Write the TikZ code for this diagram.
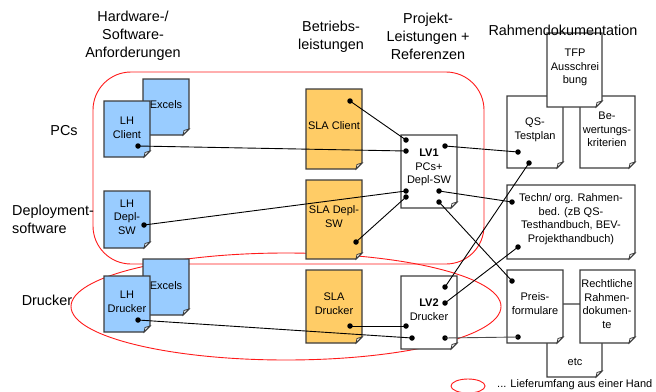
\documentclass[tikz,border=0pt]{standalone}
\usepackage{fontspec}
\setmainfont{Liberation Sans}
\definecolor{blueF}{HTML}{99CCFF}
\definecolor{orangeF}{HTML}{FFCC66}
\definecolor{edgeC}{HTML}{3C3C3C}
\definecolor{redC}{HTML}{FF1A1A}
\tikzset{
  docline/.style={draw=edgeC,line width=1.1pt,line join=miter},
  doctext/.style={align=center,inner sep=0pt,font=\fontsize{11}{13.6}\selectfont},
  headtext/.style={align=center,inner sep=0pt,font=\fontsize{14.4}{18}\selectfont},
  redline/.style={draw=redC,line width=0.9pt},
  conn/.style={draw=black,line width=0.9pt},
  dotn/.style={circle,fill=black,inner sep=0pt,minimum size=5.5pt}
}
% name, x1, y1, x2, y2, fill, text x, text y, text
\newcommand\mydoc[9]{%
  \path[docline,fill=#6] (#2,#3) -- (#4,#3) -- (#4,#5-6) -- (#4-6,#5) -- (#2,#5) -- cycle;
  \path[docline,line width=0.8pt,fill=white!80!#6] (#4,#5-6) -- (#4-6,#5) -- (#4-5,#5-4.5) -- cycle;
  \node[doctext] (#1) at (#7,#8) {#9};
}
\begin{document}
\begin{tikzpicture}[x=1pt,y=-1pt]
\useasboundingbox (0,0) rectangle (656,391);
% red groupings
\draw[redline,rounded corners=38pt] (93,72) rectangle (484,264);
\draw[redline] (286,306.5) ellipse [x radius=215, y radius=53.5];
% documents
\mydoc{exA}{143}{79}{189}{135}{blueF}{166}{105}{Excels}
\mydoc{lhc}{104}{101}{150}{157}{blueF}{127}{127.5}{LH\\Client}
\mydoc{lhd}{104}{191}{150}{248}{blueF}{127}{217}{LH\\Depl-\\SW}
\mydoc{exB}{143}{259}{189}{315}{blueF}{166}{286}{Excels}
\mydoc{lhp}{104}{276}{150}{332}{blueF}{127}{301.5}{LH\\Drucker}
\mydoc{slac}{306}{89}{362}{169}{orangeF}{334}{126}{SLA Client}
\mydoc{slad}{306}{180}{362}{259}{orangeF}{334}{216.5}{SLA Depl-\\SW}
\mydoc{slap}{306}{270}{362}{343}{orangeF}{334}{304}{SLA\\Drucker}
\mydoc{lvA}{401}{135}{457}{208}{white}{429}{167.5}{\textbf{LV1}\\PCs+\\Depl-SW}
\mydoc{lvB}{401}{276}{457}{349}{white}{429}{309.5}{\textbf{LV2}\\Drucker}
\mydoc{qs}{507}{96}{563}{168}{white}{535}{129.5}{QS-\\Testplan}
\mydoc{bew}{580}{96}{635}{168}{white}{607}{129.5}{Be-\\wertungs-\\kriterien}
\mydoc{tfp}{547}{33}{602}{107}{white}{575}{67.5}{TFP\\Ausschrei\\bung}
\mydoc{techn}{507}{185}{635}{259}{white}{571}{219}{Techn/ org. Rahmen-\\bed. (zB QS-\\Testhandbuch, BEV-\\Projekthandbuch)}
\mydoc{etcd}{547}{304}{602}{377}{white}{575}{362}{etc}
\mydoc{preis}{507}{270}{563}{343}{white}{535}{303.5}{Preis-\\formulare}
\mydoc{recht}{580}{270}{635}{343}{white}{607}{304}{Rechtliche\\Rahmen-\\dokumen-\\te}
% connection dots
\node[dotn] (dlhc) at (138,146) {};
\node[dotn] (dlhd) at (144,225) {};
\node[dotn] (dlhp) at (138,320) {};
\node[dotn] (dslac) at (350,101) {};
\node[dotn] (dslad) at (356,242) {};
\node[dotn] (dslap) at (350,326) {};
\node[dotn] (a1) at (406,140) {};
\node[dotn] (a2) at (406,151) {};
\node[dotn] (a3) at (406,191) {};
\node[dotn] (a4) at (406,197) {};
\node[dotn] (a5) at (445,146) {};
\node[dotn] (a6) at (439,191) {};
\node[dotn] (a7) at (439,202) {};
\node[dotn] (b1) at (445,287) {};
\node[dotn] (b2) at (445,303) {};
\node[dotn] (b3) at (406,326) {};
\node[dotn] (b4) at (412,338) {};
\node[dotn] (b5) at (445,338) {};
\node[dotn] (q1) at (518,152) {};
\node[dotn] (q2) at (529,163) {};
\node[dotn] (t1) at (512,202) {};
\node[dotn] (t2) at (518,247) {};
\node[dotn] (p1) at (512,281) {};
\node[dotn] (p2) at (518,337) {};
% connectors
\draw[conn] (dlhc.center) -- (a2.center);
\draw[conn] (dslac.center) -- (a1.center);
\draw[conn] (dlhd.center) -- (a3.center);
\draw[conn] (dslad.center) -- (a4.center);
\draw[conn] (a5.center) -- (q1.center);
\draw[conn] (a6.center) -- (t1.center);
\draw[conn] (a7.center) -- (p1.center);
\draw[conn] (q2.center) -- (b1.center);
\draw[conn] (t2.center) -- (b2.center);
\draw[conn] (dslap.center) -- (b3.center);
\draw[conn] (dlhp.center) -- (b4.center);
\draw[conn,draw=black!70] (b5.center) -- (p2.center);
% headers
\node[headtext] (h1) at (133,36) {Hardware-/\\Software-\\Anforderungen};
\node[headtext] (h2) at (331,37) {Betriebs-\\leistungen};
\node[headtext] (h3) at (428,36) {Projekt-\\Leistungen +\\Referenzen};
\node[headtext] (h4) at (563,30) {Rahmendokumentation};
% row labels
\node[headtext] (r1) at (64,131) {PCs};
\node[headtext,align=left,anchor=west] (r2) at (12,219) {Deployment-\\software};
\node[headtext] (r3) at (47,300) {Drucker};
% legend
\draw[redline] (468,386) ellipse [x radius=17, y radius=7];
\node[doctext,anchor=west] (leg) at (497,385) {... Lieferumfang aus einer Hand};
\end{tikzpicture}
\end{document}
